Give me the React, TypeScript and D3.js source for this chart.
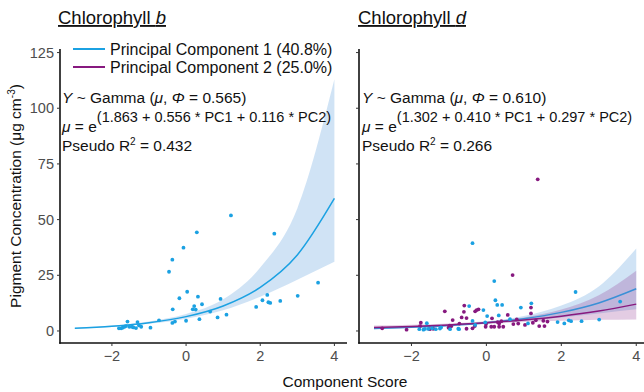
import React from "react";
import * as d3 from "d3";

// ---------- data ----------
const panelTitles = ["Chlorophyll ", "Chlorophyll "];
const panelTitleItalic = ["b", "d"];
const legendLabels = ["Principal Component 1 (40.8%)", "Principal Component 2 (25.0%)"];
const phiValues = ["0.565", "0.610"];
const linkTerms = ["(1.863 + 0.556 * PC1 + 0.116 * PC2)", "(1.302 + 0.410 * PC1 + 0.297 * PC2)"];
const pseudoR2 = ["0.432", "0.266"];
const xTicks = [-2, 0, 2, 4];
const yTicks = [0, 25, 50, 75, 100, 125];

// fitted curves and confidence bands, sampled at these component scores
const curveX = [-3, -2, -1, 0, 1, 2, 3, 4];
const bFitPC1 = [1.22, 2.12, 3.7, 6.44, 11.23, 19.59, 34.15, 59.55];
const bLowPC1 = [1.0, 1.8, 3.2, 5.5, 9.3, 15.4, 23.0, 31.1];
const bUpPC1 = [1.5, 2.5, 4.3, 7.6, 14.2, 28.5, 55.0, 113.0];
const dFitPC1 = [1.07, 1.62, 2.44, 3.68, 5.54, 8.35, 12.58, 18.95];
const dLowPC1 = [0.75, 1.3, 2.1, 3.2, 4.6, 6.1, 7.9, 9.7];
const dUpPC1 = [1.5, 2.0, 2.85, 4.2, 6.7, 11.4, 20.0, 37.0];
const dFitPC2 = [1.51, 2.03, 2.73, 3.68, 4.95, 6.66, 8.96, 12.06];
const dLowPC2 = [0.9, 1.45, 2.2, 3.1, 4.0, 4.6, 5.0, 5.2];
const dUpPC2 = [2.5, 2.85, 3.4, 4.35, 6.1, 9.6, 16.0, 27.0];

// observations [score, concentration]
const bPC1Points: [number, number][] = [
  [-1.81, 1.2], [-1.75, 1.2], [-1.71, 1.5], [-1.66, 1.9], [-1.62, 2.2], [-1.58, 4.2],
  [-1.53, 1.9], [-1.46, 1.9], [-1.42, 1.6], [-1.35, 1.3], [-1.31, 4.0], [-1.27, 2.5],
  [-1.21, 1.9], [-0.96, 1.5], [-0.73, 4.8], [-0.46, 26.6], [-0.37, 32.0], [-0.36, 9.7],
  [-0.37, 3.6], [-0.3, 4.2], [-0.18, 14.7], [-0.07, 37.4], [0.0, 4.6], [0.03, 17.6],
  [0.18, 9.7], [0.22, 11.2], [0.26, 9.6], [0.29, 44.3], [0.32, 15.4], [0.36, 5.3],
  [0.43, 12.0], [0.65, 8.7], [0.85, 6.1], [0.93, 14.4], [1.09, 7.3], [1.21, 51.9],
  [1.89, 10.8], [2.06, 13.8], [2.19, 16.2], [2.22, 12.9], [2.27, 12.6], [2.38, 43.7],
  [2.54, 13.5], [3.01, 15.8], [3.56, 21.7],
];
const dPC1Points: [number, number][] = [
  [-1.79, 0.8], [-1.68, 0.6], [-1.64, 0.9], [-1.59, 3.5], [-1.55, 0.9], [-1.45, 1.2],
  [-1.35, 0.8], [-1.24, 1.1], [-1.21, 1.6], [-0.97, 0.8], [-0.75, 1.0], [-0.73, 0.8],
  [-0.46, 11.2], [-0.37, 39.4], [-0.37, 4.5], [-0.3, 2.7], [-0.08, 9.4], [-0.03, 3.9],
  [0.02, 6.7], [0.21, 22.4], [0.24, 13.8], [0.29, 11.7], [0.33, 7.0], [0.42, 11.7],
  [0.63, 5.3], [0.92, 10.5], [1.11, 3.4], [1.2, 12.4], [1.9, 4.0], [2.08, 3.4],
  [2.2, 4.8], [2.26, 4.4], [2.38, 17.5], [2.54, 4.4], [3.01, 5.1], [3.57, 13.2],
];
const dPC2Points: [number, number][] = [
  [-2.78, 1.2], [-2.13, 0.6], [-1.77, 2.2], [-1.75, 3.7], [-1.51, 0.8], [-1.42, 1.0],
  [-1.11, 8.8], [-1.01, 1.5], [-0.98, 2.4], [-0.94, 2.1], [-0.9, 4.9], [-0.72, 3.3],
  [-0.66, 6.1], [-0.59, 11.4], [-0.6, 8.6], [-0.53, 5.8], [-0.53, 1.0], [-0.37, 1.2],
  [-0.31, 2.2], [-0.3, 8.8], [-0.26, 9.4], [-0.21, 9.7], [-0.02, 1.9], [-0.01, 3.1],
  [0.13, 1.9], [0.15, 5.7], [0.21, 1.9], [0.3, 4.0], [0.34, 3.4], [0.34, 1.9],
  [0.4, 4.4], [0.45, 1.9], [0.57, 7.2], [0.7, 25.1], [0.72, 3.1], [0.81, 5.2],
  [0.85, 3.3], [1.03, 2.7], [1.19, 7.9], [1.19, 10.5], [1.24, 3.7], [1.32, 4.8],
  [1.37, 68.1], [1.41, 2.2], [1.52, 4.6], [1.55, 2.2], [1.63, 4.2],
];

// ---------- styles ----------
const FONT = "'Liberation Sans', Arial, Helvetica, sans-serif";
const BLUE = "#1ba1e2";
const BLUE_LINE_D = "#3a90d6";
const PURPLE = "#87197f";
const BLUE_BAND = "rgba(60,140,215,0.24)";
const PURPLE_BAND = "rgba(140,40,140,0.24)";
const TICK_COL = "#4d4d4d";

const yScale = d3.scaleLinear().domain([-5.4, 126.6]).range([343, 49]);
const xLeft = d3.scaleLinear().domain([-3.4, 4.34]).range([60, 347]);
const xRight = d3.scaleLinear().domain([-3.4, 4.34]).range([359, 649]);

function bandPath(x: d3.ScaleLinear<number, number>, lo: number[], up: number[]) {
  const a = d3
    .area<number>()
    .x((d) => x(d))
    .y0((_, i) => yScale(lo[i]))
    .y1((_, i) => yScale(up[i]))
    .curve(d3.curveMonotoneX);
  return a(curveX) || "";
}
function linePath(x: d3.ScaleLinear<number, number>, vals: number[]) {
  const l = d3
    .line<number>()
    .x((d) => x(d))
    .y((_, i) => yScale(vals[i]))
    .curve(d3.curveMonotoneX);
  return l(curveX) || "";
}

function Axes({ x, showYLabels }: { x: d3.ScaleLinear<number, number>; showYLabels: boolean }) {
  const [x0, x1] = x.range();
  const y0 = 343;
  const yTop = 49;
  return (
    <g>
      <line x1={x0} x2={x0} y1={yTop} y2={y0 + 0.75} stroke="#111" strokeWidth={1.6} />
      <line x1={x0 - 0.75} x2={x1} y1={y0} y2={y0} stroke="#111" strokeWidth={1.6} />
      {yTicks.map((t) => (
        <g key={"y" + t}>
          <line x1={x0 - 3} x2={x0} y1={yScale(t)} y2={yScale(t)} stroke="#333" strokeWidth={1} />
          {showYLabels && (
            <text
              x={x0 - 6}
              y={yScale(t)}
              dy="0.35em"
              textAnchor="end"
              fontSize={14.5}
              fill={TICK_COL}
              fontFamily={FONT}
            >
              {t}
            </text>
          )}
        </g>
      ))}
      {xTicks.map((t) => (
        <g key={"x" + t}>
          <line x1={x(t)} x2={x(t)} y1={y0} y2={y0 + 3} stroke="#333" strokeWidth={1} />
          <text x={x(t)} y={y0 + 18} textAnchor="middle" fontSize={14.5} fill={TICK_COL} fontFamily={FONT}>
            {t < 0 ? "\u2212" + Math.abs(t) : String(t)}
          </text>
        </g>
      ))}
    </g>
  );
}

function Annotation({ x, i }: { x: number; i: number }) {
  return (
    <g fontFamily={FONT} fill="#111">
      <text x={x} y={103} fontSize={15.5}>
        <tspan fontStyle="italic">Y</tspan>
        {" ~ Gamma ("}
        <tspan fontStyle="italic">μ</tspan>
        {", "}
        <tspan fontStyle="italic">Φ</tspan>
        {" = " + phiValues[i] + ")"}
      </text>
      <text x={x} y={132} fontSize={15.5}>
        <tspan fontStyle="italic">μ</tspan>
        {" = e"}
        <tspan fontSize={14.5} dy={-10}>
          {linkTerms[i]}
        </tspan>
      </text>
      <text x={x} y={151} fontSize={15.5}>
        {"Pseudo R"}
        <tspan fontSize={10} dy={-6}>
          2
        </tspan>
        <tspan dy={6}>{" = " + pseudoR2[i]}</tspan>
      </text>
    </g>
  );
}

function Title({ x, i }: { x: number; i: number }) {
  return (
    <text x={x} y={24} fontSize={18.5} fontFamily={FONT} fill="#111" textDecoration="underline">
      {panelTitles[i]}
      <tspan fontStyle="italic">{panelTitleItalic[i]}</tspan>
    </text>
  );
}

export default function App() {
  return (
    <svg
      width={644}
      height={392}
      style={{ position: "absolute", left: 0, top: 0, background: "#fff" }}
      xmlns="http://www.w3.org/2000/svg"
    >
      <rect width={644} height={392} fill="#fff" />

      {/* Left panel: Chlorophyll b */}
      <path d={bandPath(xLeft, bLowPC1, bUpPC1)} fill={BLUE_BAND} />
      <path d={linePath(xLeft, bFitPC1)} fill="none" stroke={BLUE} strokeWidth={1.5} />
      {bPC1Points.map((p, k) => (
        <circle key={"bp" + k} cx={xLeft(p[0])} cy={yScale(p[1])} r={1.9} fill={BLUE} />
      ))}
      <Axes x={xLeft} showYLabels={true} />
      <Title x={58} i={0} />
      <Annotation x={62} i={0} />

      {/* legend */}
      <g fontFamily={FONT} fontSize={16} fill="#111">
        <line x1={73} x2={105} y1={49} y2={49} stroke={BLUE} strokeWidth={2} />
        <text x={110} y={55}>{legendLabels[0]}</text>
        <line x1={73} x2={105} y1={67} y2={67} stroke={PURPLE} strokeWidth={2} />
        <text x={110} y={73}>{legendLabels[1]}</text>
      </g>

      {/* Right panel: Chlorophyll d */}
      <path d={bandPath(xRight, dLowPC1, dUpPC1)} fill={BLUE_BAND} />
      <path d={bandPath(xRight, dLowPC2, dUpPC2)} fill={PURPLE_BAND} />
      <path d={linePath(xRight, dFitPC1)} fill="none" stroke={BLUE_LINE_D} strokeWidth={1.5} />
      <path d={linePath(xRight, dFitPC2)} fill="none" stroke={PURPLE} strokeWidth={1.5} />
      {dPC2Points.map((p, k) => (
        <circle key={"dq" + k} cx={xRight(p[0])} cy={yScale(p[1])} r={1.9} fill={PURPLE} />
      ))}
      {dPC1Points.map((p, k) => (
        <circle key={"dp" + k} cx={xRight(p[0])} cy={yScale(p[1])} r={1.9} fill={BLUE} />
      ))}
      <Axes x={xRight} showYLabels={false} />
      <Title x={358} i={1} />
      <Annotation x={362} i={1} />

      {/* axis titles */}
      <text
        transform="translate(21,196) rotate(-90)"
        textAnchor="middle"
        fontSize={15.5}
        fontFamily={FONT}
        fill="#111"
      >
        {"Pigment Concentration (μg cm"}
        <tspan fontSize={10} dy={-6}>
          -3
        </tspan>
        <tspan dy={6}>)</tspan>
      </text>
      <text x={345} y={387} textAnchor="middle" fontSize={15.5} fontFamily={FONT} fill="#111">
        Component Score
      </text>
    </svg>
  );
}
